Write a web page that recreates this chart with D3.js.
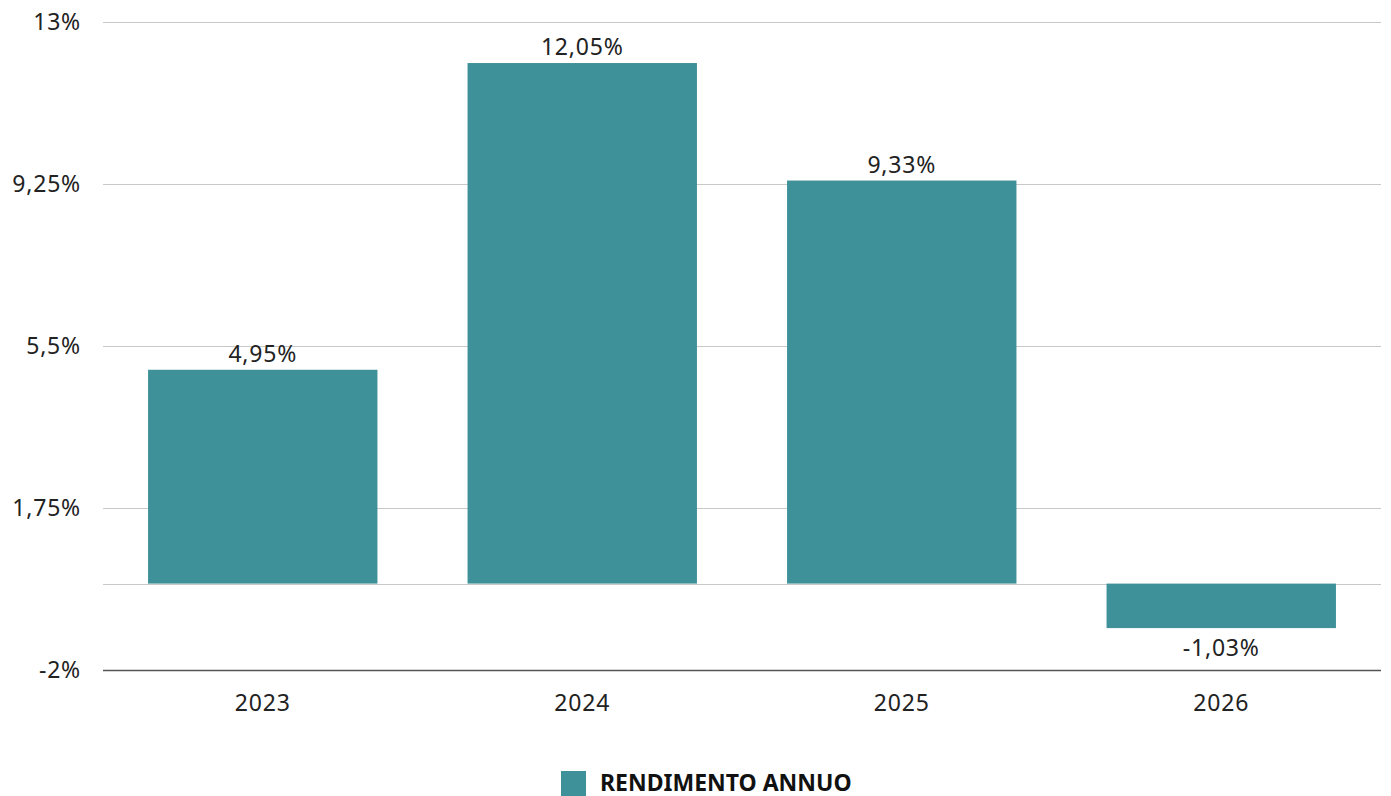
<!DOCTYPE html>
<html><head><meta charset="utf-8">
<script src="https://cdn.jsdelivr.net/npm/d3@7"></script>
<style>body{margin:0;background:#fff;}svg{display:block;font-family:"Noto Sans","Open Sans",sans-serif;}</style>
</head><body>
<svg id="c" width="1391" height="796"></svg>
<script>
const categories = ["2023","2024","2025","2026"];
const values = [4.95, 12.05, 9.33, -1.03];
const valueLabels = ["4,95%","12,05%","9,33%","-1,03%"];
const yTicks = [-2, 1.75, 5.5, 9.25, 13];
const yTickLabels = ["-2%","1,75%","5,5%","9,25%","13%"];
const seriesName = "RENDIMENTO ANNUO";

(function(){
const svg = d3.select("#c");
const mLeft = 103, mRight = 1381, mTop = 22, mBottom = 670;
const x = d3.scaleBand().domain(categories).range([mLeft, mRight]).paddingInner(0.282).paddingOuter(0.141);
const y = d3.scaleLinear().domain([-2, 13]).range([mBottom, mTop]);
const color = "#3e9199";
const fs = 23, ls = 0.8;

svg.append("g").selectAll("line").data(yTicks.slice(1).concat([0])).join("line")
  .attr("x1", mLeft).attr("x2", mRight)
  .attr("y1", d => Math.round(y(d)) + 0.5).attr("y2", d => Math.round(y(d)) + 0.5)
  .attr("stroke", "#c8c8c8").attr("stroke-width", 1);

svg.append("g").selectAll("text").data(yTicks).join("text")
  .attr("x", 81).attr("y", d => y(d)).attr("dy", "0.36em")
  .attr("text-anchor", "end").attr("font-size", fs).attr("letter-spacing", ls).attr("fill", "#222")
  .text((d, i) => yTickLabels[i]);

svg.append("g").selectAll("rect").data(values).join("rect")
  .attr("x", (d, i) => x(categories[i]))
  .attr("width", x.bandwidth())
  .attr("y", d => y(Math.max(0, d)))
  .attr("height", d => Math.abs(y(d) - y(0)))
  .attr("fill", color);

svg.append("g").selectAll("text").data(values).join("text")
  .attr("x", (d, i) => x(categories[i]) + x.bandwidth() / 2)
  .attr("y", d => d >= 0 ? y(d) - 8 : y(d) + 28)
  .attr("text-anchor", "middle").attr("font-size", fs).attr("letter-spacing", ls).attr("fill", "#222")
  .text((d, i) => valueLabels[i]);

svg.append("line").attr("x1", mLeft).attr("x2", mRight)
  .attr("y1", mBottom + 0.5).attr("y2", mBottom + 0.5)
  .attr("stroke", "#555").attr("stroke-width", 1.5);

svg.append("g").selectAll("text").data(categories).join("text")
  .attr("x", d => x(d) + x.bandwidth() / 2).attr("y", 711)
  .attr("text-anchor", "middle").attr("font-size", fs).attr("letter-spacing", ls).attr("fill", "#222")
  .text(d => d);

const lg = svg.append("g");
lg.append("rect").attr("x", 561).attr("y", 771).attr("width", 25).attr("height", 25).attr("fill", color);
lg.append("text").attr("x", 600).attr("y", 791).attr("font-size", 23).attr("font-weight", "bold")
  .attr("fill", "#111").text(seriesName);
})();
</script>
</body></html>
